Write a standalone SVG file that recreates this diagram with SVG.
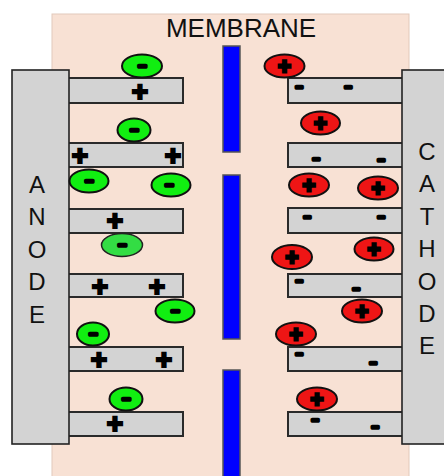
<svg xmlns="http://www.w3.org/2000/svg" width="444" height="476" viewBox="0 0 444 476">
<style>
.bg{fill:#f8e1d4;stroke:#e2c9bb;stroke-width:1}
.blk{fill:#d3d3d3;stroke:#222;stroke-width:1.6}
.plate{fill:#d3d3d3;stroke:#2a2a2a;stroke-width:2}
.mem{fill:#0000ff;stroke:#555;stroke-width:1.5}
.lbl{font-family:"Liberation Sans",Arial,sans-serif;font-size:24px;fill:#111;text-anchor:middle}
.title{font-family:"Liberation Sans",Arial,sans-serif;font-size:26px;fill:#111;text-anchor:middle}
.neg{fill:#11ee11;stroke:#111;stroke-width:2}
.neg2{fill:#33dd44;stroke:#222;stroke-width:1.5}
.pos{fill:#ee1515;stroke:#111;stroke-width:2}
.p{font-family:"Liberation Sans",Arial,sans-serif;font-weight:bold;font-size:28px;fill:#000;stroke:#000;stroke-width:2.2;text-anchor:middle}
.pi{font-family:"Liberation Sans",Arial,sans-serif;font-weight:bold;font-size:22px;fill:#000;stroke:#000;stroke-width:2.8;text-anchor:middle}
.m{font-family:"Liberation Sans",Arial,sans-serif;font-weight:bold;font-size:12px;fill:#000;stroke:#000;stroke-width:3.5;stroke-linejoin:round;text-anchor:middle}
.mi{font-family:"Liberation Sans",Arial,sans-serif;font-weight:bold;font-size:14px;fill:#000;stroke:#000;stroke-width:3.6;stroke-linejoin:round;text-anchor:middle}
</style>
<rect class="bg" x="52" y="14" width="357" height="470"/>
<text class="title" x="241" y="37">MEMBRANE</text>
<g id="membrane">
<rect class="mem" x="223" y="46" width="17" height="106"/>
<rect class="mem" x="223" y="175" width="17" height="164"/>
<rect class="mem" x="223" y="370" width="17" height="112"/>
</g>
<g id="anode">
<rect class="plate" x="68" y="78" width="115" height="25"/>
<rect class="plate" x="68" y="143" width="115" height="24"/>
<rect class="plate" x="68" y="209" width="115" height="24"/>
<rect class="plate" x="68" y="274" width="115" height="23"/>
<rect class="plate" x="68" y="347" width="115" height="24"/>
<rect class="plate" x="68" y="412" width="115" height="24"/>
<rect class="blk" x="12" y="70" width="57" height="374"/>
<text class="lbl" x="37" y="193">A</text>
<text class="lbl" x="37" y="225">N</text>
<text class="lbl" x="37" y="258">O</text>
<text class="lbl" x="37" y="290">D</text>
<text class="lbl" x="37" y="323">E</text>
<text class="p" x="140" y="101.3">+</text>
<text class="p" x="80" y="165.3">+</text>
<text class="p" x="173" y="165.3">+</text>
<text class="p" x="115" y="230.3">+</text>
<text class="p" x="100" y="296.3">+</text>
<text class="p" x="157" y="296.3">+</text>
<text class="p" x="99" y="369.3">+</text>
<text class="p" x="164" y="369.3">+</text>
<text class="p" x="115" y="433.3">+</text>
</g>
<g id="cathode">
<rect class="plate" x="288" y="78" width="115" height="25"/>
<rect class="plate" x="288" y="143" width="115" height="24"/>
<rect class="plate" x="288" y="208" width="115" height="25"/>
<rect class="plate" x="288" y="274" width="115" height="23"/>
<rect class="plate" x="288" y="347" width="115" height="24"/>
<rect class="plate" x="288" y="412" width="115" height="24"/>
<rect class="blk" x="402" y="70" width="46" height="374"/>
<text class="lbl" x="427" y="160">C</text>
<text class="lbl" x="427" y="192">A</text>
<text class="lbl" x="427" y="225">T</text>
<text class="lbl" x="427" y="257">H</text>
<text class="lbl" x="427" y="290">O</text>
<text class="lbl" x="427" y="322">D</text>
<text class="lbl" x="427" y="354">E</text>
<text class="m" x="299" y="91.2">−</text>
<text class="m" x="348" y="91.2">−</text>
<text class="m" x="316" y="163.2">−</text>
<text class="m" x="381" y="164.2">−</text>
<text class="m" x="307" y="221.2">−</text>
<text class="m" x="381" y="221.2">−</text>
<text class="m" x="299" y="285.2">−</text>
<text class="m" x="356" y="293.2">−</text>
<text class="m" x="299" y="358.4">−</text>
<text class="m" x="373" y="366.9">−</text>
<text class="m" x="315" y="424.2">−</text>
<text class="m" x="375" y="430.9">−</text>
</g>
<g id="anions">
<g id="a1"><ellipse class="neg" cx="142" cy="66" rx="20" ry="11.5"/><text class="mi" x="142" y="70.8">−</text></g>
<g id="a2"><ellipse class="neg" cx="134" cy="130" rx="16.5" ry="11.5"/><text class="mi" x="134" y="134.8">−</text></g>
<g id="a3"><ellipse class="neg" cx="89" cy="181" rx="19.5" ry="11.5"/><text class="mi" x="89" y="185.8">−</text></g>
<g id="a4"><ellipse class="neg" cx="171" cy="185" rx="19.5" ry="11.5"/><text class="mi" x="169" y="189.8">−</text></g>
<g id="a5"><ellipse class="neg2" cx="122" cy="245" rx="20.5" ry="11.5"/><text class="mi" x="122" y="249.8">−</text></g>
<g id="a6"><ellipse class="neg" cx="175" cy="311" rx="19.5" ry="11.5"/><text class="mi" x="175" y="315.8">−</text></g>
<g id="a7"><ellipse class="neg" cx="93" cy="334" rx="16" ry="11.5"/><text class="mi" x="93" y="338.8">−</text></g>
<g id="a8"><ellipse class="neg" cx="126" cy="399" rx="16.5" ry="11.5"/><text class="mi" x="126" y="403.8">−</text></g>
</g>
<g id="cations">
<g id="c1"><ellipse class="pos" cx="284.5" cy="66" rx="20" ry="11.5"/><text class="pi" x="284.5" y="74">+</text></g>
<g id="c2"><ellipse class="pos" cx="320.5" cy="123" rx="19.5" ry="11.5"/><text class="pi" x="320.5" y="131">+</text></g>
<g id="c3"><ellipse class="pos" cx="309" cy="185" rx="20" ry="11.5"/><text class="pi" x="309" y="193">+</text></g>
<g id="c4"><ellipse class="pos" cx="378" cy="188" rx="20" ry="11.5"/><text class="pi" x="378" y="196">+</text></g>
<g id="c5"><ellipse class="pos" cx="374" cy="249" rx="19.5" ry="11.5"/><text class="pi" x="374" y="257">+</text></g>
<g id="c6"><ellipse class="pos" cx="292" cy="257" rx="20" ry="12"/><text class="pi" x="292" y="265">+</text></g>
<g id="c7"><ellipse class="pos" cx="362" cy="311" rx="20" ry="11.5"/><text class="pi" x="362" y="319">+</text></g>
<g id="c8"><ellipse class="pos" cx="296" cy="334" rx="20" ry="11.5"/><text class="pi" x="296" y="342">+</text></g>
<g id="c9"><ellipse class="pos" cx="317" cy="399" rx="20" ry="11.5"/><text class="pi" x="317" y="407">+</text></g>
</g>
</svg>
